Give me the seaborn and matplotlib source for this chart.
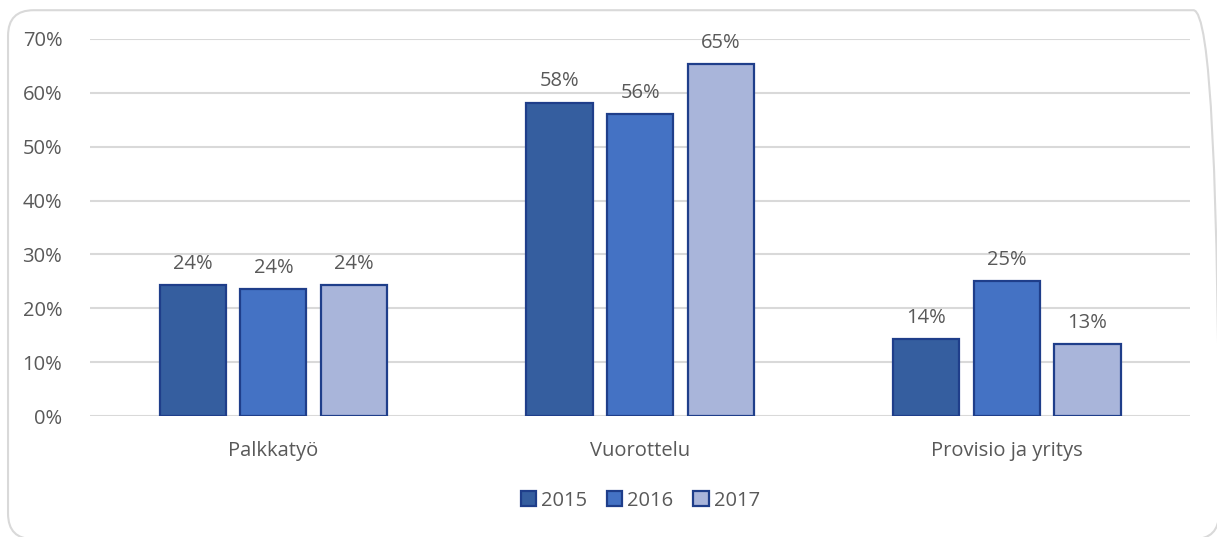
import pandas as pd
import matplotlib.pyplot as plt
import seaborn as sns
from matplotlib.patches import FancyBboxPatch
from matplotlib.ticker import PercentFormatter

categories = ["Palkkatyö", "Vuorottelu", "Provisio ja yritys"]
years = ["2015", "2016", "2017"]
values_2015 = [24.3, 58.2, 14.3]
values_2016 = [23.6, 56.1, 25.1]
values_2017 = [24.3, 65.3, 13.4]
labels_2015 = ["24%", "58%", "14%"]
labels_2016 = ["24%", "56%", "25%"]
labels_2017 = ["24%", "65%", "13%"]

df = pd.DataFrame({
    "kategoria": categories * 3,
    "vuosi": [y for y in years for _ in categories],
    "osuus": values_2015 + values_2016 + values_2017,
})
bar_labels = [labels_2015, labels_2016, labels_2017]

sns.set_style("white")
plt.rcParams['font.family'] = ['Open Sans', 'DejaVu Sans']
text_color = "#595959"
palette = {"2015": "#355E9F", "2016": "#4472C4", "2017": "#A9B5DA"}

fig = plt.figure(figsize=(12.17, 5.37), dpi=100)
ax = fig.add_axes([0.074, 0.2253, 0.904, 0.7021])

# pyöristetty reunus
fig.patches.append(FancyBboxPatch((0.0066, -0.004), 0.995, 0.985,
                                  boxstyle="round,pad=0,rounding_size=0.021",
                                  transform=fig.transFigure, facecolor="none",
                                  edgecolor="#D9D9D9", linewidth=1.5,
                                  mutation_aspect=12.17 / 5.37))

sns.barplot(data=df, x="kategoria", y="osuus", hue="vuosi", palette=palette,
            saturation=1, width=0.66, gap=0.18, edgecolor="#1F3E8A",
            linewidth=1.6, ax=ax, legend=True)

for cont, labs in zip(ax.containers, bar_labels):
    ax.bar_label(cont, labels=labs, padding=8, fontsize=14.5, color=text_color)

ax.set_ylim(0, 70)
ax.set_yticks(range(0, 71, 10))
ax.yaxis.set_major_formatter(PercentFormatter(decimals=0))
ax.grid(axis="y", color="#D9D9D9", linewidth=1.5)
ax.set_axisbelow(True)
for s in ax.spines.values():
    s.set_visible(False)
ax.set_xlabel("")
ax.set_ylabel("")
ax.tick_params(axis="both", length=0, labelsize=14.5, labelcolor=text_color)
ax.tick_params(axis="x", pad=18)
ax.tick_params(axis="y", pad=20)

handles, labs = ax.get_legend_handles_labels()
ax.legend(handles, labs, loc="center", bbox_to_anchor=(0.5, -0.225), ncol=3,
          frameon=False, fontsize=14.5, labelcolor=text_color, handlelength=0.75,
          handleheight=0.75, handletextpad=0.25, columnspacing=1.0)

fig.savefig("out.png", dpi=100)
